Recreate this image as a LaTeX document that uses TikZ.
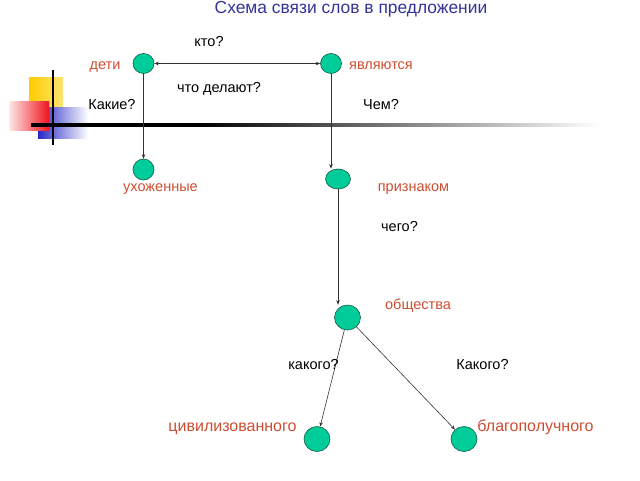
\documentclass[tikz,border=0pt]{standalone}
\usepackage{fontspec}
\setmainfont{Liberation Sans}
\usetikzlibrary{shapes.geometric,arrows.meta}
\definecolor{nodegreen}{RGB}{0,204,153}
\definecolor{nodeedge}{RGB}{20,90,70}
\definecolor{wordred}{RGB}{204,78,50}
\definecolor{titleblue}{RGB}{51,51,153}
\definecolor{decoyellow}{RGB}{255,204,0}
\definecolor{decored}{RGB}{240,20,30}
\definecolor{decoblue}{RGB}{40,40,200}
\definecolor{linkgray}{RGB}{50,50,50}
\tikzset{
  dot/.style={ellipse, draw=nodeedge, line width=0.6pt, fill=nodegreen, inner sep=0pt},
  word/.style={anchor=base, inner sep=0pt, text=wordred, font=\fontsize{14.5}{17}\selectfont},
  bigword/.style={word, font=\fontsize{16}{19}\selectfont},
  ask/.style={anchor=base, inner sep=0pt, text=black, font=\fontsize{14.5}{17}\selectfont},
  link/.style={draw=linkgray, line width=0.6pt, -{Stealth[length=4.5pt,width=3.5pt]}},
  dlink/.style={link, {Stealth[length=4.5pt,width=3.5pt]}-{Stealth[length=4.5pt,width=3.5pt]}}
}
\begin{document}
\begin{tikzpicture}[x=1pt,y=-1pt]
\useasboundingbox (0,0) rectangle (640,480);
% decoration
\shade[left color=decoyellow, right color=decoyellow!55] (29,77) rectangle (63,112);
\shade[left color=decoblue, middle color=decoblue!85, right color=white] (38,107) rectangle (88,138);
\shade[left color=decored!10, right color=decored] (9,101) rectangle (49,130);
\draw[black, line width=1.6pt] (53,70) -- (53,145);
\shade[left color=black, middle color=black!85, right color=black] (31,123.9) rectangle (200,126.1);
\shade[left color=black, middle color=black!50, right color=white] (199.5,123.9) rectangle (600,126.1);
% title
\node[anchor=base, inner sep=0pt, text=titleblue, font=\fontsize{17.4}{20}\selectfont] (title) at (351,13) {Схема связи слов в предложении};
% nodes
\node[dot, minimum width=21pt, minimum height=20pt] (A) at (143.5,63.5) {};
\node[dot, minimum width=21pt, minimum height=20pt] (B) at (331,63.5) {};
\node[dot, minimum width=21pt, minimum height=21pt] (C) at (143.5,169.5) {};
\node[dot, minimum width=25pt, minimum height=20pt] (D) at (338,179) {};
\node[dot, minimum width=26pt, minimum height=25pt] (E) at (347.5,317.5) {};
\node[dot, minimum width=26pt, minimum height=25pt] (F) at (317,439) {};
\node[dot, minimum width=26pt, minimum height=25pt] (G) at (464,439) {};
% connectors
\draw[dlink] (A) -- (B);
\draw[link] (A) -- (C);
\draw[link] (B.south) -- (B.south |- D.north);
\draw[link] (D.south) -- (D.south |- E.north);
\draw[link] (E) -- (F);
\draw[link] (E) -- (G);
% labels
\node[word] (lA) at (105,69) {дети};
\node[word] (lB) at (381,69) {являются};
\node[word] (lC) at (160.5,191) {ухоженные};
\node[word] (lD) at (413.5,191) {признаком};
\node[word] (lE) at (418,309) {общества};
\node[bigword] (lF) at (232.5,431) {цивилизованного};
\node[bigword] (lG) at (535.5,431) {благополучного};
\node[ask] (q1) at (209,46) {кто?};
\node[ask] (q2) at (219,92) {что делают?};
\node[ask] (q3) at (112,109) {Какие?};
\node[ask] (q4) at (381,109) {Чем?};
\node[ask] (q5) at (399.5,231) {чего?};
\node[ask] (q6) at (313.5,369) {какого?};
\node[ask] (q7) at (482.5,369) {Какого?};
\end{tikzpicture}
\end{document}
